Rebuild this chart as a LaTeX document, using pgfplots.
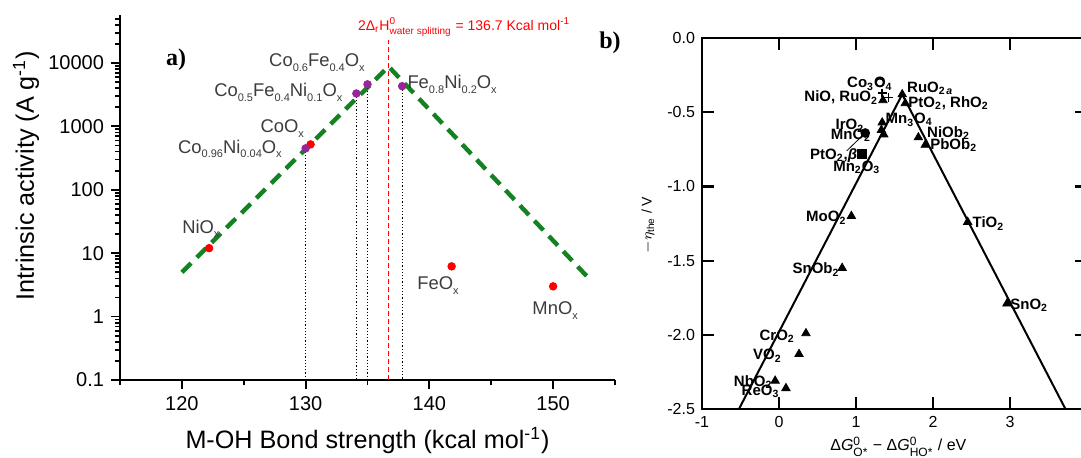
\documentclass[border=0pt]{standalone}
\usepackage{fontspec}
\setmainfont{Liberation Sans}
\newfontfamily\seriffont{Liberation Serif}
\usepackage{amsmath}
\usepackage{pgfplots}
\pgfplotsset{compat=1.18}

\definecolor{dgreen}{RGB}{20,130,35}
\definecolor{dpurple}{RGB}{155,35,155}
\definecolor{lbl}{RGB}{60,60,60}
\newcommand{\sub}[1]{\raisebox{-0.45ex}{\fontsize{5.5}{6}\selectfont #1}}

\begin{document}
\begin{tikzpicture}
\path[use as bounding box] (0,0) rectangle (540.5pt,228.5pt);
\clip (0,0) rectangle (540.5pt,228.5pt);

% ---- a) bond strength volcano
\begin{axis}[
  at={(60pt,38.5pt)}, anchor=south west,
  scale only axis, width=247.5pt, height=182.5pt,
  xmin=115, xmax=155, ymode=log, ymin=0.1, ymax=57000,
  axis x line*=bottom, axis y line*=left,
  axis line style={-, line width=1.2pt},
  tick align=outside,
  major tick length=4.5pt, minor tick length=2.5pt,
  every tick/.style={black, line width=0.9pt},
  xtick={120,130,140,150}, minor xtick={115,125,135,145,155},
  log ticks with fixed point,
  /pgf/number format/1000 sep={},
  /pgf/number format/assume math mode=true,
  ticklabel style={font=\fontsize{10}{12}\selectfont},
  xlabel={M-OH Bond strength (kcal mol\textsuperscript{-1})},
  ylabel={Intrinsic activity (A g\textsuperscript{-1})},
  label style={font=\fontsize{12.6}{15}\selectfont},
  xlabel style={at={(axis description cs:0.5,-0.165)}, anchor=center},
  ylabel style={at={(axis description cs:-0.19,0.56)}, anchor=center},
  clip=false,
]
\addplot[dgreen, line width=2.2pt, dash pattern=on 6.5pt off 4pt] coordinates {(120,5) (136.7,8800) (153,3.8)};
% dotted drop lines
\addplot[black, densely dotted, line width=0.6pt] coordinates {(130,450) (130,0.1)};
\addplot[black, densely dotted, line width=0.6pt] coordinates {(134.1,3300) (134.1,0.1)};
\addplot[black, densely dotted, line width=0.6pt] coordinates {(135,4600) (135,0.1)};
\addplot[black, densely dotted, line width=0.6pt] coordinates {(137.8,4300) (137.8,0.1)};
\addplot[red, dash pattern=on 2.5pt off 1.5pt, line width=0.8pt] coordinates {(136.7,0.1) (136.7,23000)};
% single oxides
\addplot[only marks, mark=*, mark size=1.9pt, red] coordinates {(122.2,12) (130.4,520) (141.8,6.2) (150,3)};
% mixed oxides
\addplot[only marks, mark=*, mark size=1.9pt, dpurple] coordinates {(130,450) (134.1,3300) (135,4600) (137.8,4300)};

\begin{scope}[every node/.style={lbl, font=\fontsize{9.2}{11}\selectfont, inner sep=0pt}]
\node[anchor=base east] at (axis cs:134.8,8650) {Co\sub{0.6}Fe\sub{0.4}O\sub{x}};
\node[anchor=base east] at (axis cs:133.0,2910) {Co\sub{0.5}Fe\sub{0.4}Ni\sub{0.1}O\sub{x}};
\node[anchor=base west] at (axis cs:138.2,3890) {Fe\sub{0.8}Ni\sub{0.2}O\sub{x}};
\node[anchor=base east] at (axis cs:129.9,787) {CoO\sub{x}};
\node[anchor=base east] at (axis cs:128.1,380) {Co\sub{0.96}Ni\sub{0.04}O\sub{x}};
\node[anchor=base west] at (axis cs:120.0,20.8) {NiO\sub{x}};
\node[anchor=base west] at (axis cs:139.0,2.63) {FeO\sub{x}};
\node[anchor=base west] at (axis cs:148.3,1.06) {MnO\sub{x}};
\end{scope}
\node[red, anchor=base west, inner sep=0pt, font=\fontsize{7}{9}\selectfont] at (axis cs:134.2,33000)
  {2Δ$_{\text{r}}$H$^{\text{0}}_{\text{water splitting}}$ = 136.7 Kcal mol\textsuperscript{-1}};
\end{axis}

% ---- b) theoretical overpotential volcano
\begin{axis}[
  at={(351pt,24pt)}, anchor=south west,
  scale only axis, width=192.5pt, height=185.5pt,
  xmin=-1, xmax=4, ymin=-2.5, ymax=0,
  xtick={-1,0,...,4}, ytick={-2.5,-2,...,0},
  tick align=inside, major tick length=6pt,
  axis line style={line width=1.2pt},
  every tick/.style={black, line width=1.1pt},
  yticklabel style={/pgf/number format/.cd, fixed, fixed zerofill, precision=1},
  /pgf/number format/assume math mode=true,
  ticklabel style={font=\fontsize{8}{10}\selectfont},
  xlabel={Δ\textit{G}$^{\text{0}}_{\text{O*}}$ − Δ\textit{G}$^{\text{0}}_{\text{HO*}}$ / eV},
  xlabel style={font=\fontsize{8}{10}\selectfont, at={(axis description cs:0.51,-0.102)}, anchor=center},
  clip=false,
]
\addplot[black, line width=1pt] coordinates {(-0.52,-2.5) (1.6,-0.38) (3.72,-2.5)};
\addplot[only marks, mark=triangle*, mark size=2.4pt, black] coordinates {
  (1.35,-0.42) (1.60,-0.38) (1.64,-0.44) (1.34,-0.57) (1.33,-0.62) (1.36,-0.65)
  (1.81,-0.67) (1.90,-0.72) (0.94,-1.20) (2.45,-1.24) (0.82,-1.55) (2.96,-1.79)
  (0.35,-1.99) (0.26,-2.13) (-0.05,-2.31) (0.09,-2.36)};
\addplot[only marks, mark=*, mark size=2.2pt, black] coordinates {(1.12,-0.64)};
\addplot[only marks, mark=square*, mark size=2.2pt, black] coordinates {(1.08,-0.78)};
\addplot[only marks, mark=o, mark size=2pt, black, line width=0.8pt] coordinates {(1.31,-0.30)};
\addplot[only marks, mark=+, mark size=2.2pt, black, line width=0.8pt] coordinates {(1.34,-0.37) (1.42,-0.40)};
\draw[black, line width=0.4pt] (axis cs:0.88,-0.76) -- (axis cs:1.10,-0.65);

\begin{scope}[every node/.style={black, font=\bfseries\fontsize{7.5}{9}\selectfont, inner sep=0pt}]
\node[anchor=center] at (axis cs:1.18,-0.31) {Co\textsubscript{3}O\textsubscript{4}};
\node[anchor=east] at (axis cs:1.29,-0.40) {NiO, RuO\textsubscript{2}};
\node[anchor=west] at (axis cs:1.66,-0.34) {RuO\textsubscript{2\,\textit{a}}};
\node[anchor=west] at (axis cs:1.675,-0.44) {PtO\textsubscript{2}, RhO\textsubscript{2}};
\node[anchor=west] at (axis cs:1.38,-0.55) {Mn\textsubscript{3}O\textsubscript{4}};
\node[anchor=center] at (axis cs:0.92,-0.59) {IrO\textsubscript{2}};
\node[anchor=center] at (axis cs:0.935,-0.655) {MnO\textsubscript{2}};
\node[anchor=center] at (axis cs:0.71,-0.79) {PtO\textsubscript{2},\textit{β}};
\node[anchor=center] at (axis cs:1.01,-0.87) {Mn\textsubscript{2}O\textsubscript{3}};
\node[anchor=west] at (axis cs:1.92,-0.64) {NiOb\textsubscript{2}};
\node[anchor=west] at (axis cs:1.96,-0.72) {PbOb\textsubscript{2}};
\node[anchor=east] at (axis cs:0.88,-1.21) {MoO\textsubscript{2}};
\node[anchor=west] at (axis cs:2.51,-1.25) {TiO\textsubscript{2}};
\node[anchor=east] at (axis cs:0.79,-1.56) {SnOb\textsubscript{2}};
\node[anchor=west] at (axis cs:3.0,-1.80) {SnO\textsubscript{2}};
\node[anchor=east] at (axis cs:0.21,-2.01) {CrO\textsubscript{2}};
\node[anchor=east] at (axis cs:0.04,-2.14) {VO\textsubscript{2}};
\node[anchor=east] at (axis cs:-0.08,-2.32) {NbO\textsubscript{2}};
\node[anchor=east] at (axis cs:0.01,-2.38) {ReO\textsubscript{3}};
\end{scope}
\end{axis}

\node[rotate=90, font=\fontsize{7}{9}\selectfont] at (324pt,116pt) {$-\eta_{\text{the}}$ / V};
\node[font=\seriffont\bfseries\fontsize{12}{14}\selectfont] at (88pt,198.5pt) {a)};
\node[font=\seriffont\bfseries\fontsize{12}{14}\selectfont] at (305pt,207pt) {b)};
\end{tikzpicture}
\end{document}
